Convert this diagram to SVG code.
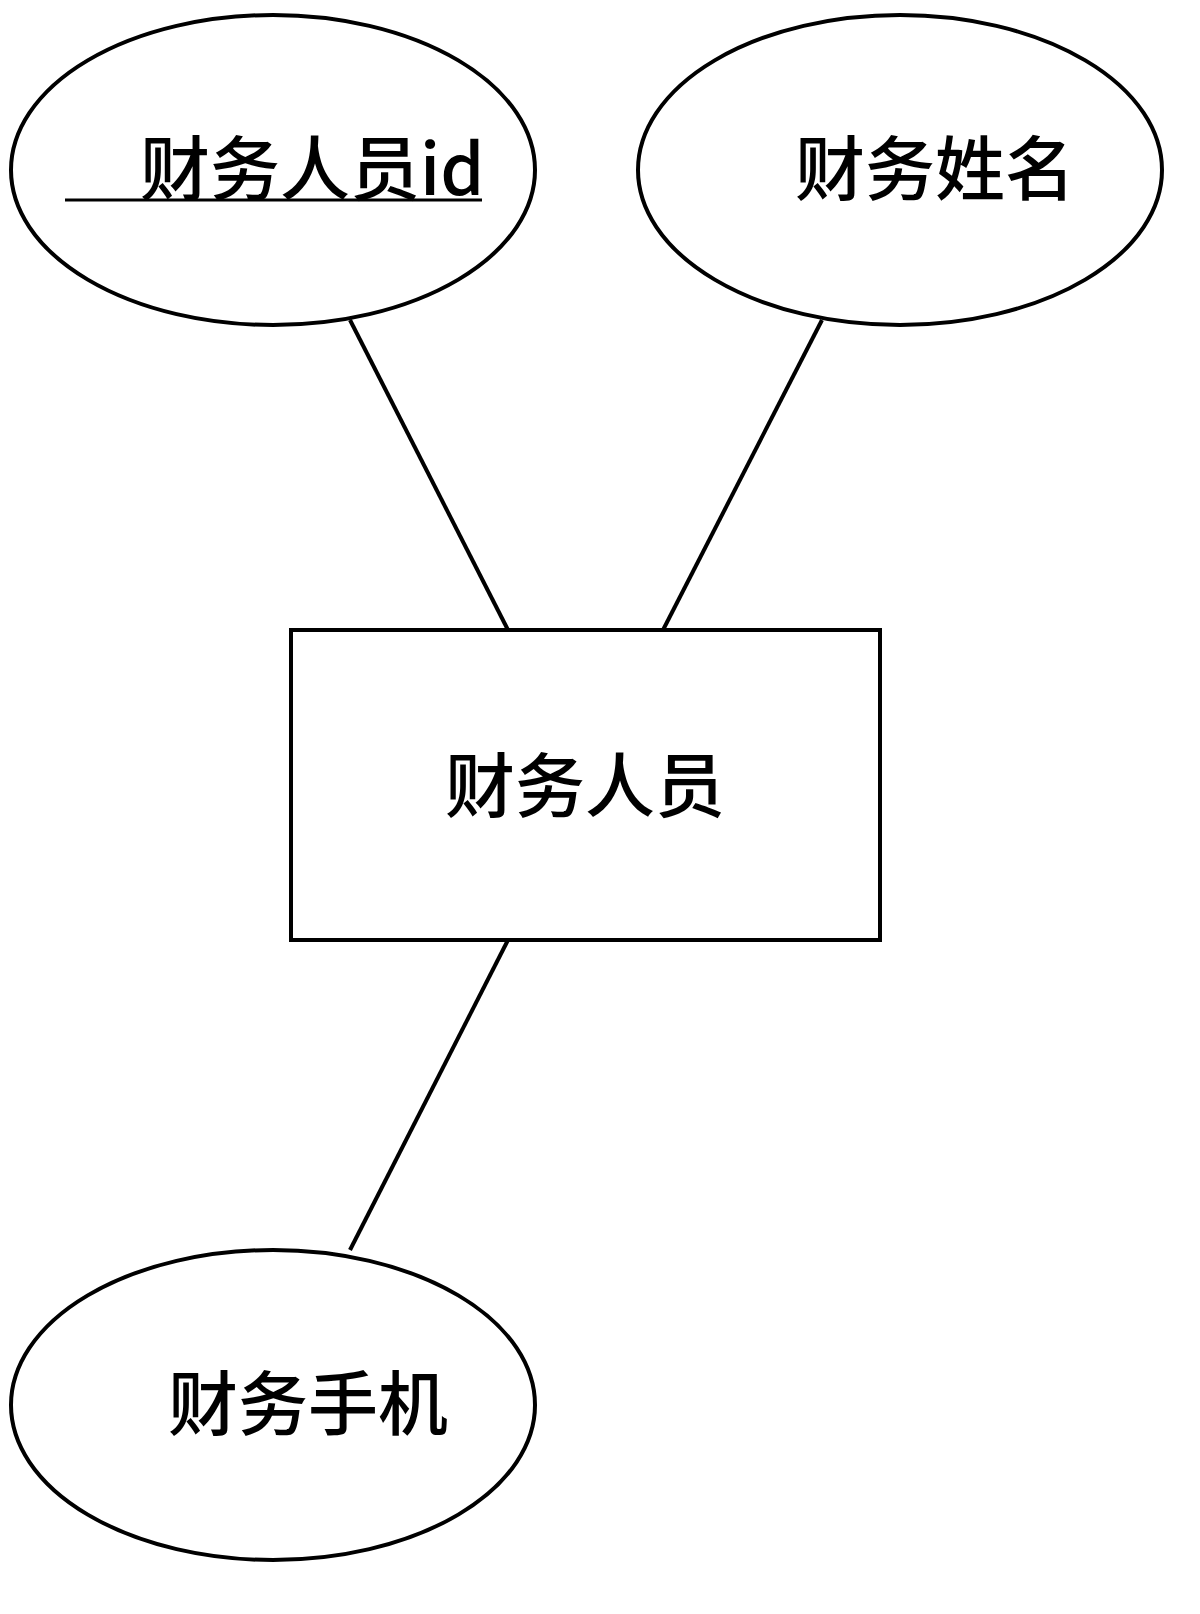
<svg xmlns="http://www.w3.org/2000/svg" width="1200" height="1614" viewBox="0 0 1200 1614">
<style>
.s{fill:#fff;stroke:#000;stroke-width:4}
.t{font-family:"Noto Sans CJK SC","Noto Sans",sans-serif;font-size:70px;fill:#000;font-weight:500}
.c line{stroke:#000;stroke-width:4}
</style>
<rect width="1200" height="1614" fill="#fff"/>
<g class="c" id="connectors">
<line x1="350" y1="320" x2="508" y2="630"/>
<line x1="822" y1="320" x2="663" y2="630"/>
<line x1="508" y1="940" x2="350" y2="1250"/>
</g>
<g id="attr-id"><ellipse class="s" cx="273" cy="170" rx="262" ry="155"/><text class="t" x="140" y="195">财务人员id</text><line x1="65" y1="200" x2="482" y2="200" stroke="#000" stroke-width="3"/></g>
<g id="attr-name"><ellipse class="s" cx="900" cy="170" rx="262" ry="155"/><text class="t" x="795" y="195">财务姓名</text></g>
<g id="entity"><rect class="s" x="291" y="630" width="589" height="310"/><text class="t" x="445" y="812">财务人员</text></g>
<g id="attr-phone"><ellipse class="s" cx="273" cy="1405" rx="262" ry="155"/><text class="t" x="168" y="1430">财务手机</text></g>
</svg>
